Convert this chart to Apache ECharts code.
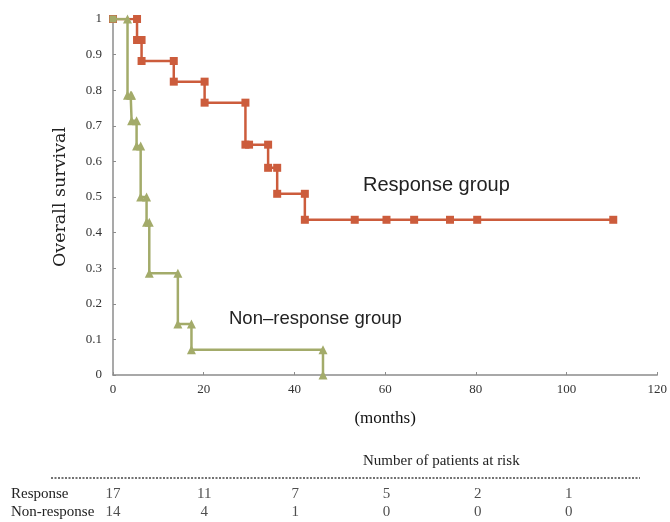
<!DOCTYPE html>
<html>
<head>
<meta charset="utf-8">
<script src="https://cdn.jsdelivr.net/npm/echarts@6/dist/echarts.min.js"></script>
<style>
html,body{margin:0;padding:0;background:#fff;}
#chart{width:670px;height:522px;}
</style>
</head>
<body>
<div id="chart"></div>
<script>
// Response group: Kaplan–Meier step points [months, survival]
var responseX = [0, 5.3, 5.3, 5.8, 6.3, 6.3, 13.4, 13.4, 20.2, 20.2, 29.2, 29.2, 30.0, 34.2, 34.2, 36.2, 36.2, 42.3, 42.3, 53.3, 60.3, 66.4, 74.3, 80.3, 110.3];
var responseY = [1, 1, 0.941, 0.941, 0.941, 0.882, 0.882, 0.824, 0.824, 0.765, 0.765, 0.647, 0.647, 0.647, 0.582, 0.582, 0.509, 0.509, 0.436, 0.436, 0.436, 0.436, 0.436, 0.436, 0.436];
// Non-response group
var nonResponseX = [0, 3.2, 3.2, 3.9, 4.1, 4.1, 5.2, 5.2, 6.1, 6.1, 7.4, 7.4, 8.0, 8.0, 14.3, 14.3, 17.3, 17.3, 46.3, 46.3];
var nonResponseY = [1, 1, 0.786, 0.786, 0.786, 0.714, 0.714, 0.643, 0.643, 0.5, 0.5, 0.429, 0.429, 0.286, 0.286, 0.143, 0.143, 0.071, 0.071, 0];
// Number at risk table
var riskTimes = [0, 20, 40, 60, 80, 100];
var riskGroups = ['Response', 'Non-response'];
var riskResponse = [17, 11, 7, 5, 2, 1];
var riskNonResponse = [14, 4, 1, 0, 0, 0];

function zip(xs, ys) { return xs.map(function (x, i) { return [x, ys[i]]; }); }

var riskData = [];
riskTimes.forEach(function (t, i) {
  riskData.push([t, riskGroups[0], riskResponse[i]]);
  riskData.push([t, riskGroups[1], riskNonResponse[i]]);
});

var nonRespData = zip(nonResponseX, nonResponseY).map(function (p, i) {
  return i === 0 ? {value: p, symbol: 'rect', symbolSize: 7} : p;
});

var serif = '"Liberation Serif", "DejaVu Serif", serif';
var wideSerif = '"DejaVu Serif", serif';
var sans = '"Liberation Sans", Arial, sans-serif';
var axisColor = '#8c8c8c';

var chart = echarts.init(document.getElementById('chart'), null, {renderer: 'canvas'});
chart.setOption({
  animation: false,
  backgroundColor: '#ffffff',
  grid: [
    {left: 113, right: 10, top: 19, bottom: 147},
    {left: 113, right: 10, top: 485, height: 36}
  ],
  xAxis: [
    {
      gridIndex: 0, type: 'value', min: 0, max: 120, interval: 20,
      name: '(months)', nameLocation: 'middle', nameGap: 35,
      nameTextStyle: {fontFamily: serif, fontSize: 17, color: '#111'},
      axisLine: {lineStyle: {color: axisColor, width: 1.5}},
      axisTick: {inside: true, length: 3, lineStyle: {color: axisColor}},
      axisLabel: {fontFamily: serif, fontSize: 13, color: '#333', margin: 8},
      splitLine: {show: false}
    },
    {
      gridIndex: 1, type: 'value', min: 0, max: 120, show: false
    }
  ],
  yAxis: [
    {
      gridIndex: 0, type: 'value', min: 0, max: 1, interval: 0.1,
      name: 'Overall survival', nameLocation: 'middle', nameGap: 44, nameRotate: 90,
      nameTextStyle: {fontFamily: wideSerif, fontSize: 17.5, color: '#222'},
      axisLine: {show: true, lineStyle: {color: axisColor, width: 1.5}},
      axisTick: {show: true, inside: true, length: 3, lineStyle: {color: axisColor}},
      axisLabel: {fontFamily: serif, fontSize: 13, color: '#333', margin: 11,
        formatter: function (v) { return (Math.round(v * 10) / 10).toString(); }},
      splitLine: {show: false}
    },
    {
      gridIndex: 1, type: 'category', data: riskGroups, inverse: true,
      axisLine: {show: false}, axisTick: {show: false}, splitLine: {show: false},
      axisLabel: {interval: 0, hideOverlap: false, fontFamily: serif, fontSize: 15, color: '#222', align: 'left', margin: 102}
    }
  ],
  series: [
    {
      name: 'Response group', type: 'line', xAxisIndex: 0, yAxisIndex: 0,
      data: zip(responseX, responseY),
      symbol: 'rect', symbolSize: 8, showAllSymbol: true,
      itemStyle: {color: '#cc5c3c'},
      lineStyle: {color: '#cc5c3c', width: 2.5},
      z: 2
    },
    {
      name: 'Non-response group', type: 'line', xAxisIndex: 0, yAxisIndex: 0,
      data: nonRespData,
      symbol: 'triangle', symbolSize: 9, showAllSymbol: true,
      itemStyle: {color: '#a3ab6a'},
      lineStyle: {color: '#a3ab6a', width: 2.5},
      z: 3
    },
    {
      type: 'scatter', xAxisIndex: 1, yAxisIndex: 1,
      data: riskData, symbolSize: 0,
      label: {show: true, position: 'inside', fontFamily: serif, fontSize: 15, color: '#222',
        formatter: function (p) { return String(p.value[2]); }}
    }
  ],
  graphic: [
    {type: 'text', left: 363, top: 175, style: {text: 'Response group', font: '20px ' + sans, fill: '#222'}},
    {type: 'text', left: 229, top: 309, style: {text: 'Non\u2013response group', font: '18.5px ' + sans, fill: '#222'}},
    {type: 'text', left: 363, top: 454, style: {text: 'Number of patients at risk', font: '15px ' + serif, fill: '#222'}},
    {type: 'line', shape: {x1: 51, y1: 478, x2: 640, y2: 478},
      style: {stroke: '#444', lineWidth: 1.5, lineDash: [2, 1.5]}}
  ]
});
</script>
</body>
</html>
